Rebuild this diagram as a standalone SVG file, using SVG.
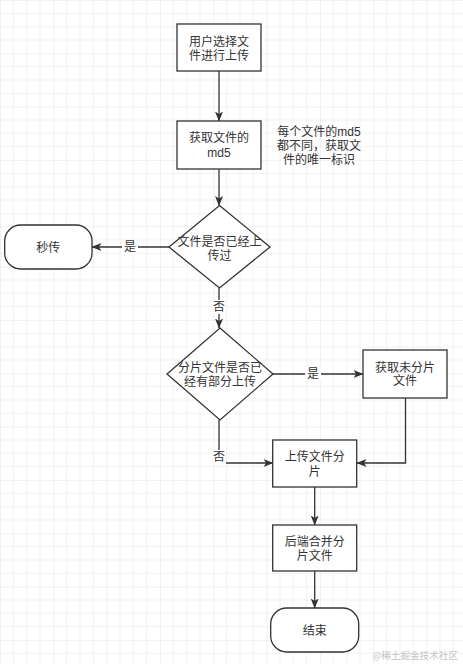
<svg xmlns="http://www.w3.org/2000/svg" width="463" height="664" viewBox="0 0 463 664">
<style>
.n{fill:#fff;stroke:#333;stroke-width:1.3}
.t{font-family:"Liberation Sans","Noto Sans CJK SC",sans-serif;font-size:12px;fill:#333;text-anchor:middle;dominant-baseline:central}
.e{fill:none;stroke:#333;stroke-width:1.3}
.lb{fill:#fff}
</style>
<defs>
<pattern id="g" width="53.33" height="53.33" patternUnits="userSpaceOnUse">
<path d="M13.33 0V53.33M26.67 0V53.33M40 0V53.33M0 13.33H53.33M0 26.67H53.33M0 40H53.33" stroke="#f1f1f1" stroke-width="1" fill="none"/>
<path d="M0 0V53.33M0 0H53.33" stroke="#e6e6e6" stroke-width="1.2" fill="none"/>
</pattern>
<marker id="a" markerWidth="10" markerHeight="8" refX="9.5" refY="4" orient="auto" markerUnits="userSpaceOnUse">
<path d="M0 0L10 4L0 8L2.5 4Z" fill="#333"/>
</marker>
</defs>
<rect width="463" height="664" fill="#fff"/>
<rect width="463" height="664" fill="url(#g)"/>
<g id="connectors">
<path class="e" d="M219 71V121" marker-end="url(#a)"/>
<path class="e" d="M219 169V205.5" marker-end="url(#a)"/>
<path class="e" d="M169 247H92" marker-end="url(#a)"/>
<rect class="lb" x="122" y="240" width="16" height="14"/>
<text class="t" x="130" y="247">是</text>
<path class="e" d="M219 288V328" marker-end="url(#a)"/>
<rect class="lb" x="212" y="300" width="14" height="14"/>
<text class="t" x="219" y="307">否</text>
<path class="e" d="M273 374H363" marker-end="url(#a)"/>
<rect class="lb" x="305" y="367" width="16" height="14"/>
<text class="t" x="313" y="374">是</text>
<path class="e" d="M219 420V463H273" marker-end="url(#a)"/>
<rect class="lb" x="212" y="450" width="14" height="14"/>
<text class="t" x="219" y="457">否</text>
<path class="e" d="M405.5 398V463H357" marker-end="url(#a)"/>
<path class="e" d="M314.7 487V525" marker-end="url(#a)"/>
<path class="e" d="M314.7 571V608" marker-end="url(#a)"/>
</g>
<g id="n1">
<rect class="n" x="177" y="24" width="84" height="47"/>
<text class="t" x="219" y="41.7">用户选择文</text>
<text class="t" x="219" y="55.5">件进行上传</text>
</g>
<g id="n2">
<rect class="n" x="177" y="121" width="84" height="48"/>
<text class="t" x="219" y="138.3">获取文件的</text>
<text class="t" x="219" y="152.7">md5</text>
</g>
<g id="note">
<text class="t" x="319" y="131.7">每个文件的md5</text>
<text class="t" x="319" y="145.7">都不同，获取文</text>
<text class="t" x="319" y="159.5">件的唯一标识</text>
</g>
<g id="d1">
<path class="n" d="M219.5 205.5L270 247L219.5 288L169 247Z"/>
<text class="t" x="219.5" y="241.7">文件是否已经上</text>
<text class="t" x="219.5" y="256">传过</text>
</g>
<g id="s1">
<rect class="n" x="4.7" y="225" width="87.3" height="44" rx="16" ry="16"/>
<text class="t" x="48.3" y="247.5">秒传</text>
</g>
<g id="d2">
<path class="n" d="M220 328L273 374L220 420L167 374Z"/>
<text class="t" x="220" y="368">分片文件是否已</text>
<text class="t" x="220" y="382">经有部分上传</text>
</g>
<g id="n3">
<rect class="n" x="363" y="350" width="84" height="48"/>
<text class="t" x="405" y="367.5">获取未分片</text>
<text class="t" x="405" y="381">文件</text>
</g>
<g id="n4">
<rect class="n" x="272.7" y="440" width="84" height="47"/>
<text class="t" x="314.7" y="457">上传文件分</text>
<text class="t" x="314.7" y="471.5">片</text>
</g>
<g id="n5">
<rect class="n" x="272.7" y="525" width="84" height="46"/>
<text class="t" x="314.7" y="541.5">后端合并分</text>
<text class="t" x="314.7" y="555.5">片文件</text>
</g>
<g id="end">
<rect class="n" x="270.7" y="608" width="88" height="44" rx="16" ry="16"/>
<text class="t" x="314.7" y="631">结束</text>
</g>
<text x="458" y="655" style="font-family:'Noto Sans CJK SC',sans-serif;font-size:9.6px;fill:#c4c4c4;text-anchor:end;dominant-baseline:central">@稀土掘金技术社区</text>
</svg>
